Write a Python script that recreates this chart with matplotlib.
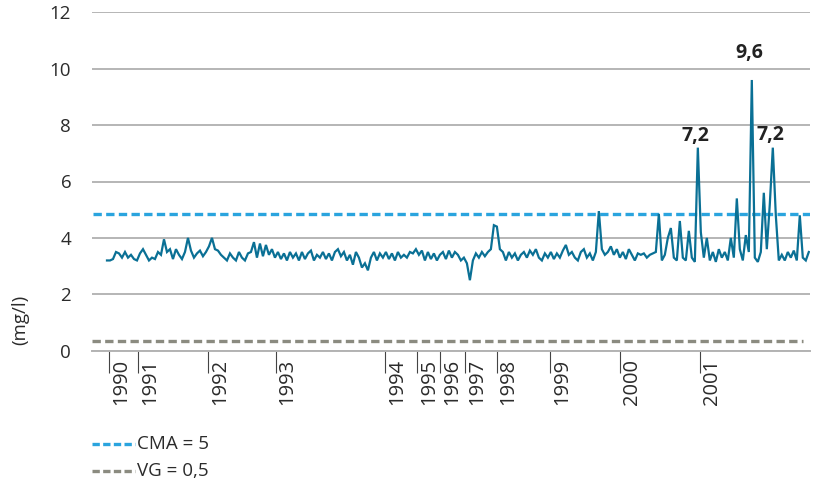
#!/usr/bin/env python3
# -*- coding: utf-8 -*-

import matplotlib
matplotlib.use("Agg")
import matplotlib.pyplot as plt
import matplotlib.transforms as mtransforms
from matplotlib.lines import Line2D

# ---------------- dados ----------------

# concentração (mg/l), uma amostra por ponto, em ordem cronológica
conc = [
    3.2, 3.2, 3.25, 3.5, 3.45, 3.3, 3.5, 3.3, 3.4, 3.25,
    3.2, 3.45, 3.6, 3.4, 3.2, 3.3, 3.25, 3.5, 3.4, 3.95,
    3.5, 3.6, 3.25, 3.6, 3.4, 3.25, 3.5, 4.0, 3.55, 3.3,
    3.45, 3.55, 3.35, 3.5, 3.7, 4.0, 3.6, 3.55, 3.4, 3.3,
    3.2, 3.45, 3.3, 3.2, 3.5, 3.3, 3.2, 3.45, 3.5, 3.85,
    3.3, 3.8, 3.35, 3.75, 3.4, 3.6, 3.3, 3.5, 3.25, 3.45,
    3.2, 3.5, 3.3, 3.45, 3.2, 3.5, 3.25, 3.45, 3.55, 3.2,
    3.4, 3.3, 3.5, 3.25, 3.45, 3.2, 3.5, 3.6, 3.35, 3.5,
    3.2, 3.4, 3.05, 3.5, 3.3, 2.95, 3.1, 2.85, 3.3, 3.5,
    3.2, 3.45, 3.3, 3.5, 3.25, 3.45, 3.2, 3.5, 3.3, 3.4,
    3.3, 3.5, 3.45, 3.6, 3.4, 3.55, 3.2, 3.5, 3.25, 3.45,
    3.2, 3.4, 3.5, 3.25, 3.55, 3.3, 3.5, 3.4, 3.2, 3.3,
    3.1, 2.5, 3.2, 3.45, 3.3, 3.5, 3.35, 3.5, 3.6, 4.45,
    4.4, 3.6, 3.5, 3.2, 3.5, 3.3, 3.45, 3.2, 3.4, 3.5,
    3.3, 3.55, 3.4, 3.6, 3.3, 3.2, 3.45, 3.3, 3.5, 3.25,
    3.45, 3.3, 3.55, 3.75, 3.4, 3.5, 3.3, 3.2, 3.5, 3.6,
    3.3, 3.45, 3.2, 3.5, 4.95, 3.6, 3.4, 3.5, 3.7, 3.4,
    3.6, 3.3, 3.5, 3.25, 3.6, 3.4, 3.2, 3.45, 3.4, 3.45,
    3.3, 3.4, 3.45, 3.5, 4.85, 3.2, 3.4, 4.0, 4.35, 3.3,
    3.2, 4.6, 3.3, 3.2, 4.25, 3.3, 3.15, 7.2, 4.2, 3.3,
    4.0, 3.2, 3.5, 3.15, 3.6, 3.3, 3.5, 3.2, 4.0, 3.3,
    5.4, 3.6, 3.2, 4.1, 3.5, 9.6, 3.3, 3.15, 3.5, 5.6,
    3.6, 5.2, 7.2, 4.8, 3.2, 3.4, 3.2, 3.5, 3.3, 3.55,
    3.2, 4.8, 3.3, 3.2, 3.5,
]

# início de cada ano (índice da amostra)
anos     = ["1990", "1991", "1992", "1993", "1994", "1995", "1996",
            "1997", "1998", "1999", "2000", "2001"]
anos_pos = [0.8, 10.5, 33.8, 56.2, 92.8, 103.5, 111.0,
            119.3, 129.9, 147.7, 171.0, 197.7]

cma = 4.85   # CMA = 5
vg  = 0.35   # VG = 0,5

# picos anotados: (índice, rótulo, deslocamento vertical em pt)
picos = [(197, "7,2", 0), (215, "9,6", 11), (222, "7,2", 1)]

# ---------------- figura ----------------

plt.rcParams["font.family"] = ["Open Sans", "DejaVu Sans"]
TXT = "#2b2b2b"

fig = plt.figure(figsize=(8.17, 4.91), dpi=100)
ax = fig.add_axes([92/817, 1 - 350.7/491, (810-92)/817, (350.7-12.3)/491])

n = len(conc)
ax.set_xlim(-5, n - 1 + 0.4)
ax.set_ylim(0, 12)

ax.set_yticks([0, 2, 4, 6, 8, 10, 12])
ax.yaxis.grid(True, color="#a9a9a9", linewidth=1.2)
ax.set_axisbelow(True)
ax.tick_params(axis="y", length=0, pad=15, labelsize=13.5, labelcolor=TXT)

for s in ("top", "right", "left"):
    ax.spines[s].set_visible(False)
ax.spines["bottom"].set_color("#b3b3b3")
ax.spines["bottom"].set_linewidth(1.4)

ax.set_xticks(anos_pos)
ax.set_xticklabels([])
ax.tick_params(axis="x", direction="out", length=16, width=0.8, color="#444444")

off = mtransforms.ScaledTranslation(12/100, -8/100, fig.dpi_scale_trans)
trans = mtransforms.blended_transform_factory(ax.transData, ax.transAxes) + off
for p, a in zip(anos_pos, anos):
    ax.text(p, 0, a, transform=trans, rotation=90, ha="center", va="top",
            fontsize=14.5, color=TXT)

# linhas de referência
ax.axhline(cma, xmin=0.002, xmax=1.0, color="#2aa4de", linewidth=2.4,
           dashes=(2.5, 1.3))
ax.axhline(vg, xmin=0.0, xmax=0.99, color="#8b8b80", linewidth=2.4,
           dashes=(2.5, 1.3))

# série
ax.plot(range(n), conc, color="#0a7095", linewidth=1.6, solid_joinstyle="miter")

for i, lab, dy in picos:
    ax.annotate(lab, (i, conc[i]), xytext=(-1.5, 1 + dy), textcoords="offset points",
                ha="center", va="bottom", fontsize=14, fontweight="bold",
                color="#222222")

fig.text(20/817, 1 - 320/491, "(mg/l)", rotation=90, ha="center", va="center",
         fontsize=13.5, color=TXT)

# legenda
for yy, cor, lab in [(444, "#2aa4de", "CMA = 5"), (471, "#8b8b80", "VG = 0,5")]:
    fig.add_artist(Line2D([92/817, 135/817], [1 - yy/491, 1 - yy/491],
                          color=cor, linewidth=2.4, dashes=(2.2, 1.0)))
    fig.text(137/817, 1 - yy/491, lab, ha="left", va="center",
             fontsize=13.5, color=TXT)

fig.savefig("out.png", dpi=100)
